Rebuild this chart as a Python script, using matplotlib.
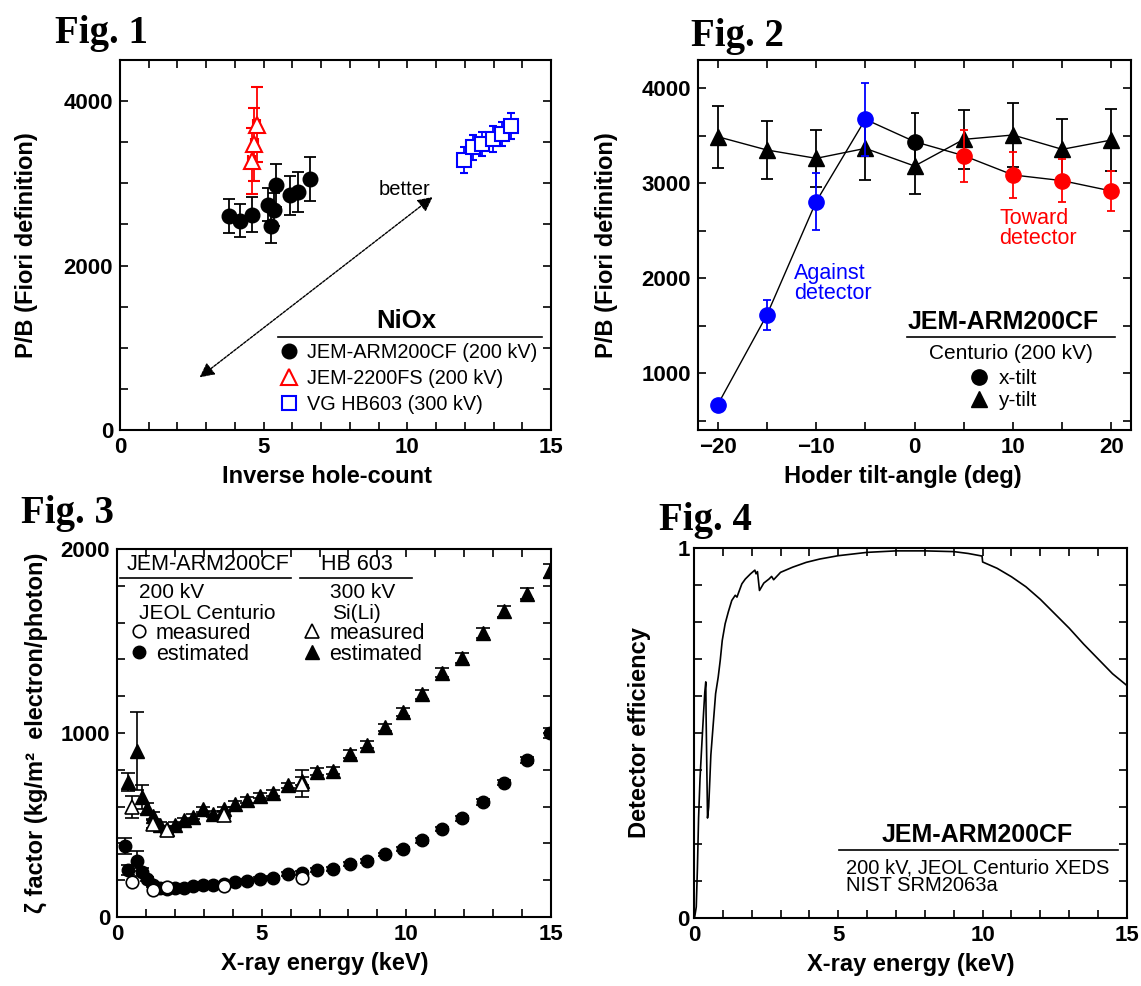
import matplotlib
matplotlib.use("Agg")
import matplotlib.pyplot as plt
from matplotlib.ticker import MultipleLocator, FixedLocator
from matplotlib.lines import Line2D

plt.rcParams['font.family'] = ['Liberation Sans', 'DejaVu Sans']

# ---------------- Fig. 1 data ----------------
f1_arm_x = [3.78, 4.16, 4.58, 5.15, 5.27, 5.37, 5.42, 5.93, 6.20, 6.62]
f1_arm_y = [2600, 2544, 2620, 2740, 2479, 2680, 2974, 2853, 2893, 3054]
f1_arm_err = [205, 200, 210, 200, 200, 200, 260, 237, 245, 265]
f1_fs_x = [4.75, 4.67, 4.58]
f1_fs_y = [3715, 3472, 3268]
f1_fs_err = [460, 440, 400]
f1_fs_xerr = [0.12, 0.12, 0.12]
f1_hb_x = [11.98, 12.30, 12.61, 12.99, 13.30, 13.62]
f1_hb_y = [3284, 3437, 3477, 3537, 3598, 3698]
f1_hb_err = [155, 150, 150, 160, 150, 160]
f1_hb_xerr = [0.15, 0.15, 0.15, 0.15, 0.15, 0.2]
f1_labels = ["JEM-ARM200CF (200 kV)", "JEM-2200FS (200 kV)", "VG HB603 (300 kV)"]
f1_arrow_start = (2.77, 640)
f1_arrow_end = (10.88, 2833)

# ---------------- Fig. 2 data ----------------
f2_angle = [-20, -15, -10, -5, 0, 5, 10, 15, 20]
f2_xtilt = [667, 1614, 2807, 3674, 3439, 3291, 3088, 3028, 2919]
f2_xtilt_err = [40, 160, 300, 385, 300, 275, 240, 230, 215]
f2_ytilt = [3491, 3351, 3263, 3368, 3182, 3463, 3509, 3358, 3456]
f2_ytilt_err = [325, 305, 300, 330, 300, 310, 333, 315, 325]

# ---------------- Fig. 3 data ----------------
f3_e_est = [0.28, 0.39, 0.68, 0.85, 1.04, 1.25, 1.49, 1.74, 2.01, 2.31, 2.62,
            2.96, 3.31, 3.69, 4.09, 4.51, 4.95, 5.41, 5.90, 6.40, 6.93, 7.48,
            8.05, 8.64, 9.25, 9.89, 10.54, 11.22, 11.92, 12.65, 13.39, 14.16, 14.96]
f3_arm_est = [385, 255, 305, 245, 205, 175, 155, 150, 155, 160, 168,
              175, 172, 178, 188, 195, 205, 213, 232, 240, 255, 262,
              287, 305, 340, 368, 416, 478, 536, 626, 730, 853, 1000]
f3_arm_est_err = [45, 25, 55, 20, 12, 10, 10, 10, 10, 10, 10,
                  10, 10, 10, 10, 10, 10, 10, 10, 10, 10, 10,
                  10, 10, 10, 10, 12, 12, 12, 15, 15, 18, 25]
f3_e_meas_arm = [0.52, 1.25, 1.74, 3.69, 6.40]
f3_arm_meas = [188, 149, 163, 167, 212]

f3_e_hb_est = [0.39, 0.68, 0.85, 1.04, 1.25, 1.49, 1.74, 2.01, 2.31, 2.62,
               2.96, 3.31, 3.69, 4.09, 4.51, 4.95, 5.41, 5.90, 6.40, 6.93, 7.48,
               8.05, 8.64, 9.25, 9.89, 10.54, 11.22, 11.92, 12.65, 13.39, 14.16, 14.96]
f3_hb_est = [735, 900, 650, 590, 550, 500, 480, 500, 525, 545,
             585, 560, 585, 615, 635, 660, 675, 715, 740, 790, 796,
             886, 937, 1030, 1115, 1210, 1328, 1408, 1543, 1661, 1757, 1880]
f3_hb_est_err = [50, 212, 65, 30, 20, 15, 15, 15, 15, 15,
                 15, 15, 15, 15, 15, 15, 15, 15, 20, 20, 20,
                 20, 20, 20, 20, 25, 25, 25, 25, 30, 30, 40]
f3_e_meas_hb = [0.52, 1.25, 1.74, 3.69, 6.40]
f3_hb_meas = [600, 505, 475, 556, 725]
f3_hb_meas_err = [60, 20, 20, 20, 75]

# ---------------- Fig. 4 data ----------------
f4_e = [0.02, 0.08, 0.12, 0.16, 0.21, 0.28, 0.33, 0.375, 0.41, 0.42, 0.47, 0.51,
        0.55, 0.585, 0.67, 0.75, 0.84, 0.91, 0.98, 1.08, 1.19, 1.31, 1.43, 1.49,
        1.55, 1.66, 1.78, 1.96, 2.11, 2.15, 2.20, 2.27, 2.42, 2.60, 2.69, 2.76,
        3.00, 3.42, 3.89, 4.36, 5.00, 6.00, 7.00, 8.00, 9.00, 9.50, 9.98, 10.00,
        10.50, 11.00, 11.50, 12.00, 12.50, 13.00, 13.50, 14.00, 14.50, 15.00]
f4_eff = [0.0, 0.03, 0.135, 0.27, 0.377, 0.48, 0.55, 0.61, 0.638, 0.55, 0.27, 0.30,
          0.373, 0.44, 0.526, 0.606, 0.651, 0.696, 0.75, 0.795, 0.827, 0.858, 0.872, 0.867,
          0.88, 0.903, 0.916, 0.93, 0.94, 0.93, 0.936, 0.885, 0.905, 0.916, 0.923, 0.914,
          0.934, 0.948, 0.961, 0.970, 0.979, 0.988, 0.992, 0.992, 0.990, 0.985, 0.978, 0.962,
          0.945, 0.922, 0.895, 0.861, 0.822, 0.783, 0.740, 0.700, 0.660, 0.628]

# ---------------- figure ----------------
fig = plt.figure(figsize=(11.41, 9.86), dpi=100)
ax1 = fig.add_axes([0.1052, 0.5639, 0.3777, 0.3753])
ax2 = fig.add_axes([0.6118, 0.5639, 0.3795, 0.3753])
ax3 = fig.add_axes([0.1025, 0.0700, 0.3804, 0.3732])
ax4 = fig.add_axes([0.6082, 0.0690, 0.3795, 0.3753])

TICK = 16
LAB = 17


def style(ax):
    ax.tick_params(which='both', direction='in', top=True, right=True,
                   width=1.2, length=6, labelsize=TICK, pad=5)
    for s in ax.spines.values():
        s.set_linewidth(1.5)
    for lbl in ax.get_xticklabels() + ax.get_yticklabels():
        lbl.set_fontweight('bold')


for ax, title, pos in [(ax1, "Fig. 1", (0.048, 0.956)), (ax2, "Fig. 2", (0.6055, 0.953)),
                       (ax3, "Fig. 3", (0.018, 0.470)), (ax4, "Fig. 4", (0.578, 0.462))]:
    fig.text(pos[0], pos[1], title, family='Liberation Serif', weight='bold',
             size=28, va='baseline', ha='left')

# ---- Fig 1 ----
ax1.errorbar(f1_arm_x, f1_arm_y, yerr=f1_arm_err, fmt='o', color='black', ms=10.5,
             capsize=4, elinewidth=1.3, capthick=1.3, zorder=3)
ax1.errorbar(f1_fs_x, f1_fs_y, yerr=f1_fs_err, xerr=f1_fs_xerr, fmt='^', color='red',
             mfc='white', mec='red', mew=1.5, ms=11, capsize=4, elinewidth=1.3,
             capthick=1.3, zorder=3)
ax1.errorbar(f1_hb_x, f1_hb_y, yerr=f1_hb_err, xerr=f1_hb_xerr, fmt='s', color='blue',
             mfc='white', mec='blue', mew=1.5, ms=10, capsize=3, elinewidth=1.3,
             capthick=1.3, zorder=3)
ax1.annotate("", xy=f1_arrow_end, xytext=f1_arrow_start,
             arrowprops=dict(arrowstyle='<|-|>', color='black', lw=1.0,
                             linestyle=(0, (2, 1)), mutation_scale=22, shrinkA=0, shrinkB=0))
ax1.text(9.9, 2920, "better", fontsize=14.5, ha='center', va='center')
ax1.set_xlim(0, 15)
ax1.set_ylim(0, 4500)
ax1.xaxis.set_major_locator(MultipleLocator(5))
ax1.xaxis.set_minor_locator(MultipleLocator(1))
ax1.yaxis.set_major_locator(MultipleLocator(2000))
ax1.yaxis.set_minor_locator(MultipleLocator(500))
ax1.set_xlabel("Inverse hole-count", fontsize=LAB, weight='bold')
ax1.set_ylabel("P/B (Fiori definition)", fontsize=LAB, weight='bold')
ax1.xaxis.set_label_coords(0.48, -0.095)
ax1.yaxis.set_label_coords(-0.19, 0.5)
ax1.text(9.96, 1324, "NiOx", fontsize=18.5, weight='bold', ha='center', va='center')
ax1.axhline(1135, xmin=0.366, xmax=0.98, color='black', lw=1.2)
h1 = [Line2D([], [], marker='o', color='black', ls='none', ms=10.5),
      Line2D([], [], marker='^', mfc='white', mec='red', mew=1.5, ls='none', ms=11),
      Line2D([], [], marker='s', mfc='white', mec='blue', mew=1.5, ls='none', ms=10)]
ax1.legend(h1, f1_labels, loc='upper left', bbox_to_anchor=(0.365, 0.235), frameon=False,
           fontsize=14.3, handletextpad=0.35, labelspacing=0.36, borderpad=0,
           handlelength=1.15, borderaxespad=0)
style(ax1)

# ---- Fig 2 ----
xcols = ['blue' if a < 0 else ('black' if a == 0 else 'red') for a in f2_angle]
ax2.plot(f2_angle, f2_xtilt, color='black', lw=1.0, zorder=2)
ax2.errorbar(f2_angle, f2_ytilt, yerr=f2_ytilt_err, fmt='^-', color='black', lw=1.0,
             ms=12, capsize=4, elinewidth=1.3, capthick=1.3, zorder=3)
for a, v, e, c in zip(f2_angle, f2_xtilt, f2_xtilt_err, xcols):
    ax2.errorbar([a], [v], yerr=[e], fmt='o', color=c, ms=11, capsize=3,
                 elinewidth=1.3, capthick=1.3, zorder=4)
ax2.text(-12.25, 1940, "Against\ndetector", color='blue', fontsize=15.5, ha='left',
         va='center', linespacing=0.95)
ax2.text(8.6, 2525, "Toward\ndetector", color='red', fontsize=15.5, ha='left',
         va='center', linespacing=0.95)
ax2.text(8.97, 1533, "JEM-ARM200CF", fontsize=18, weight='bold', ha='center', va='center')
ax2.axhline(1375, xmin=(-0.81 + 22) / 44, xmax=(20.4 + 22) / 44, color='black', lw=1.2)
ax2.text(9.8, 1211, "Centurio (200 kV)", fontsize=15, ha='center', va='center')
h2 = [Line2D([], [], marker='o', color='black', ls='none', ms=11),
      Line2D([], [], marker='^', color='black', ls='none', ms=12)]
ax2.legend(h2, ["x-tilt", "y-tilt"], loc='upper left', bbox_to_anchor=(0.624, 0.165),
           frameon=False, fontsize=15, handletextpad=0.45, labelspacing=0.15,
           borderpad=0, handlelength=1.0, borderaxespad=0)
ax2.set_xlim(-22, 22)
ax2.set_ylim(400, 4300)
ax2.xaxis.set_major_locator(MultipleLocator(10))
ax2.xaxis.set_minor_locator(MultipleLocator(5))
ax2.yaxis.set_major_locator(MultipleLocator(1000))
ax2.yaxis.set_minor_locator(MultipleLocator(500))
ax2.set_xlabel("Hoder tilt-angle (deg)", fontsize=LAB, weight='bold')
ax2.set_ylabel("P/B (Fiori definition)", fontsize=LAB, weight='bold')
ax2.xaxis.set_label_coords(0.474, -0.095)
ax2.yaxis.set_label_coords(-0.186, 0.5)
style(ax2)

# ---- Fig 3 ----
ax3.errorbar(f3_e_hb_est, f3_hb_est, yerr=f3_hb_est_err, fmt='^', color='black', ms=10,
             capsize=5, elinewidth=1.2, capthick=1.2, zorder=3)
ax3.errorbar(f3_e_meas_hb, f3_hb_meas, yerr=f3_hb_meas_err, fmt='^', color='black',
             mfc='white', mec='black', mew=1.2, ms=10, capsize=5, elinewidth=1.2,
             capthick=1.2, zorder=4)
ax3.errorbar(f3_e_est, f3_arm_est, yerr=f3_arm_est_err, fmt='o', color='black', ms=9,
             capsize=5, elinewidth=1.2, capthick=1.2, zorder=3)
ax3.plot(f3_e_meas_arm, f3_arm_meas, 'o', mfc='white', mec='black', mew=1.2, ms=9, zorder=4)
ax3.text(3.15, 1915, "JEM-ARM200CF", fontsize=15.5, ha='center', va='center')
ax3.axhline(1842, xmin=0.1 / 15, xmax=6.02 / 15, color='black', lw=1.2)
ax3.text(8.3, 1915, "HB 603", fontsize=15.5, ha='center', va='center')
ax3.axhline(1842, xmin=6.34 / 15, xmax=10.2 / 15, color='black', lw=1.2)
ax3.text(0.76, 1761, "200 kV", fontsize=15, ha='left', va='center')
ax3.text(0.76, 1652, "JEOL Centurio", fontsize=15, ha='left', va='center')
ax3.text(7.35, 1761, "300 kV", fontsize=15, ha='left', va='center')
ax3.text(7.45, 1652, "Si(Li)", fontsize=15, ha='left', va='center')
h3a = [Line2D([], [], marker='o', mfc='white', mec='black', mew=1.2, ls='none', ms=9),
       Line2D([], [], marker='o', color='black', ls='none', ms=9)]
h3b = [Line2D([], [], marker='^', mfc='white', mec='black', mew=1.2, ls='none', ms=10),
       Line2D([], [], marker='^', color='black', ls='none', ms=10)]
lg3a = ax3.legend(h3a, ["measured", "estimated"], loc='upper left',
                  bbox_to_anchor=(0.025, 0.80), frameon=False, fontsize=15.5,
                  handletextpad=0.3, labelspacing=0.0, borderpad=0, handlelength=1.0,
                  borderaxespad=0)
ax3.add_artist(lg3a)
ax3.legend(h3b, ["measured", "estimated"], loc='upper left', bbox_to_anchor=(0.425, 0.80),
           frameon=False, fontsize=15.5, handletextpad=0.3, labelspacing=0.0, borderpad=0,
           handlelength=1.0, borderaxespad=0)
ax3.set_xlim(0, 15)
ax3.set_ylim(0, 2000)
ax3.xaxis.set_major_locator(MultipleLocator(5))
ax3.xaxis.set_minor_locator(MultipleLocator(1))
ax3.yaxis.set_major_locator(MultipleLocator(1000))
ax3.yaxis.set_minor_locator(MultipleLocator(200))
ax3.set_xlabel("X-ray energy (keV)", fontsize=LAB, weight='bold')
ax3.set_ylabel("\u03b6 factor (kg/m\u00b2  electron/photon)", fontsize=LAB, weight='bold')
ax3.xaxis.set_label_coords(0.479, -0.095)
ax3.yaxis.set_label_coords(-0.16, 0.5)
style(ax3)

# ---- Fig 4 ----
ax4.plot(f4_e, f4_eff, color='black', lw=1.2)
ax4.text(9.8, 0.225, "JEM-ARM200CF", fontsize=18, weight='bold', ha='center', va='center')
ax4.axhline(0.183, xmin=5.04 / 15, xmax=14.7 / 15, color='black', lw=1.2)
ax4.text(5.25, 0.135, "200 kV, JEOL Centurio XEDS", fontsize=14.5, ha='left', va='center')
ax4.text(5.25, 0.088, "NIST SRM2063a", fontsize=14.5, ha='left', va='center')
ax4.set_xlim(0, 15)
ax4.set_ylim(0, 1)
ax4.xaxis.set_major_locator(MultipleLocator(5))
ax4.xaxis.set_minor_locator(MultipleLocator(1))
ax4.yaxis.set_major_locator(FixedLocator([0, 1]))
ax4.yaxis.set_minor_locator(MultipleLocator(0.1))
ax4.yaxis.set_major_formatter(plt.FuncFormatter(lambda v, p: "%d" % round(v)))
ax4.set_xlabel("X-ray energy (keV)", fontsize=LAB, weight='bold')
ax4.set_ylabel("Detector efficiency", fontsize=LAB, weight='bold')
ax4.xaxis.set_label_coords(0.5, -0.095)
ax4.yaxis.set_label_coords(-0.10, 0.5)
style(ax4)
ax4.tick_params(axis='y', pad=3)

fig.savefig("out.png", dpi=100)
